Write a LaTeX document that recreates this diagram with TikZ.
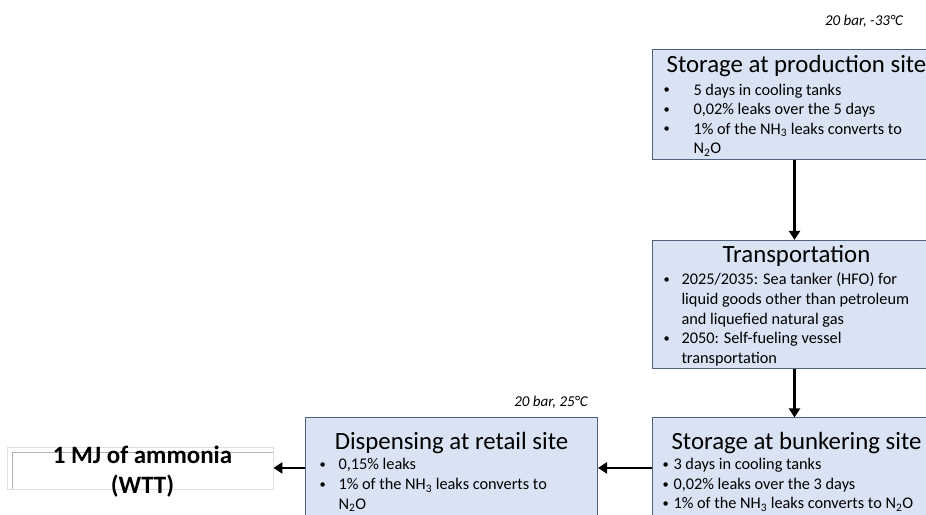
\documentclass[tikz,border=0pt]{standalone}
\usepackage{fontspec}
\setmainfont{Carlito}
\usetikzlibrary{arrows.meta,positioning}

\definecolor{stagefill}{HTML}{DAE3F3}
\definecolor{stageline}{HTML}{4E627D}

\newcommand{\titlefont}{\fontsize{24.8}{29}\selectfont}
% title line of a stage box: #1 strut height, #2 extra gap below it, #3 title
\newcommand{\stagetitle}[3]{{\centering\titlefont\rule{0pt}{#1}#3\par}\vspace{#2}}
% bullet line: #1 bullet indent, #2 text indent, #3 text
\newcommand{\bitem}[3]{\par\noindent\hangindent=#2\hangafter=1\makebox[#2][l]{\hspace*{#1}{\fontsize{12.5}{12.5}\selectfont\raisebox{1.3pt}{\textbullet}}}#3\par}
\newcommand{\nhthree}{NH\textsubscript{3}}
\newcommand{\ntwoo}{N\textsubscript{2}O}

\tikzset{
  stage/.style={draw=stageline, fill=stagefill, line width=1pt, anchor=north west,
    text width=288pt, align=flush left, inner xsep=0pt, inner ysep=3pt,
    font=\fontsize{16.3}{19.6}\selectfont},
  cond/.style={anchor=base, font=\fontsize{15}{18}\selectfont\itshape},
  flow/.style={-{Triangle[width=11pt,length=9pt]}, line width=2.6pt},
  outbox/.style={draw=gray!60, line width=0.8pt, minimum width=261pt, minimum height=37pt, inner sep=0pt},
}

\begin{document}
\begin{tikzpicture}[x=1pt, y=-1pt]
    \useasboundingbox (0,0) rectangle (926,514);
    \clip (0,0) rectangle (926,514);

    % Storage at production site
    \node[stage] (prod) at (652,49) {\stagetitle{19.5pt}{3.4pt}{Storage at production site}%
        \bitem{11pt}{41pt}{5 days in cooling tanks}%
        \bitem{11pt}{41pt}{0,02\% leaks over the 5 days}%
        \bitem{11pt}{41pt}{1\% of the \nhthree{} leaks converts to\newline \ntwoo}};
    \node[cond] (prodcond) at (864,25) {20 bar, -33°C};

    % Transportation
    \node[stage, below=80pt of prod] (trans) {\stagetitle{19.5pt}{2.4pt}{Transportation}%
        \bitem{11pt}{29pt}{2025/2035: Sea tanker (HFO) for\newline liquid goods other than petroleum\newline and liquefied natural gas}%
        \bitem{11pt}{29pt}{2050: Self-fueling vessel\newline transportation}};

    % Storage at bunkering site
    \node[stage, minimum height=100pt, below=48pt of trans] (bunk) {\stagetitle{25pt}{1pt}{Storage at bunkering site}%
        \bitem{10pt}{21pt}{3 days in cooling tanks}%
        \bitem{10pt}{21pt}{0,02\% leaks over the 3 days}%
        \bitem{10pt}{21pt}{1\% of the \nhthree{} leaks converts to \ntwoo}};

    % Dispensing at retail site
    \node[stage, text width=292pt, minimum height=100pt, left=54pt of bunk] (disp) {\stagetitle{25pt}{1pt}{Dispensing at retail site}%
        \bitem{14pt}{33pt}{0,15\% leaks}%
        \bitem{14pt}{33pt}{1\% of the \nhthree{} leaks converts to\newline \ntwoo}};
    \node[cond] (dispcond) at (551,406) {20 bar, 25°C};

    % Result
    \node[outbox] (wtt) at (142.5,470.5) {};
    \draw[gray!25, line width=0.8pt] ([xshift=-4pt, yshift=4pt]wtt.north west) rectangle (wtt.south east);
    \node[font=\fontsize{25}{30}\selectfont\bfseries, align=center, inner sep=0pt] (wttlabel) at ([yshift=-1.5pt]wtt.center) {1 MJ of ammonia\\(WTT)};

    % Edges
    \draw[flow] ([xshift=-2pt]prod.south) -- ([xshift=-2pt]trans.north);
    \draw[flow] ([xshift=-2pt]trans.south) -- ([xshift=-2pt]bunk.north);
    \draw[flow] (bunk.west) -- (disp.east);
    \draw[flow] (disp.west) -- (disp.west -| wtt.east);
\end{tikzpicture}
\end{document}
